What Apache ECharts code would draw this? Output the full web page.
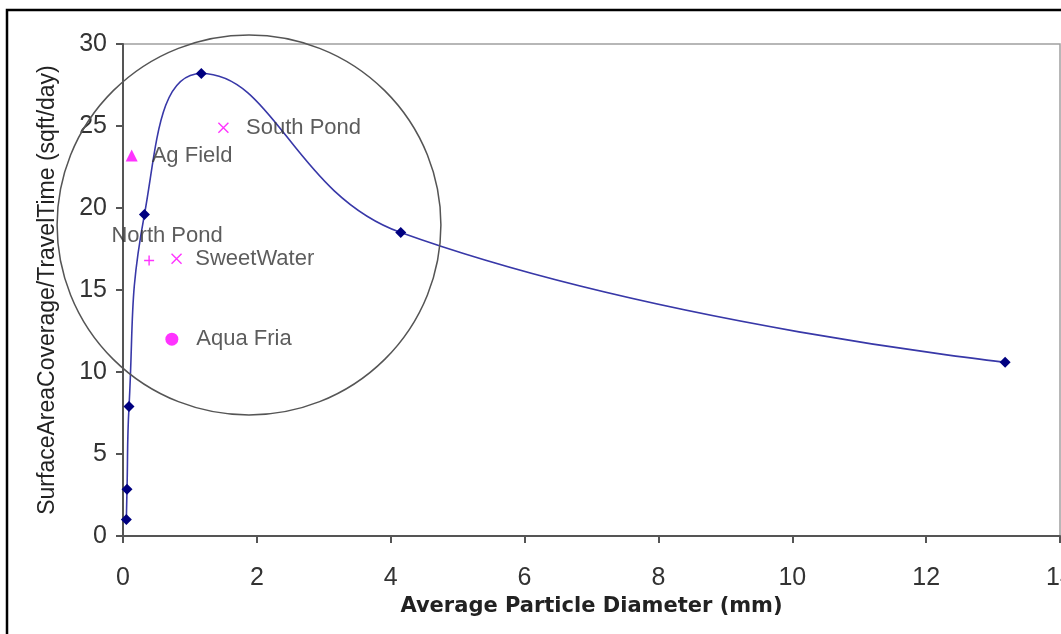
<!DOCTYPE html>
<html>
<head>
<meta charset="utf-8">
<script src="https://cdn.jsdelivr.net/npm/echarts@6/dist/echarts.min.js"></script>
<style>html,body{margin:0;padding:0;background:#fff;}#c{width:1061px;height:634px;}</style>
</head>
<body>
<div id="c"></div>
<script>
// Curve data (average particle diameter, mm vs coverage/travel time)
const curveX = [0.05, 0.06, 0.09, 0.32, 1.17, 4.15, 13.18];
const curveY = [1.0, 2.85, 7.9, 19.6, 28.2, 18.5, 10.6];
// Field samples
const sampleNames = ['Ag Field', 'South Pond', 'North Pond', 'SweetWater', 'Aqua Fria'];
const sampleX = [0.13, 1.5, 0.39, 0.8, 0.73];
const sampleY = [23.2, 24.9, 16.8, 16.9, 12.0];
const xTicks = [0, 2, 4, 6, 8, 10, 12, 14];
const yTicks = [0, 5, 10, 15, 20, 25, 30];

const MAG = '#ff00ff';
const FONT = 'Liberation Sans, Arial, sans-serif';
const symbols = [
  'triangle',
  'path://M0,0L10,10M10,0L0,10',
  'path://M5,0L5,10M0,5L10,5',
  'path://M0,0L10,10M10,0L0,10',
  'circle'
];
const symSizes = [12, 10, 10, 10, 13];
const labelCfg = [
  {position: 'right', distance: 14},
  {position: 'right', distance: 17},
  {position: 'top', offset: [18, -2], distance: 6},
  {position: 'right', distance: 13},
  {position: 'right', distance: 18}
];

const chart = echarts.init(document.getElementById('c'));
const series = [{
  type: 'line',
  data: curveX.map((x, i) => [x, curveY[i]]),
  smooth: 0.45,
  symbol: 'diamond',
  symbolSize: 11,
  lineStyle: {color: '#3838a8', width: 1.6},
  itemStyle: {color: '#000080'},
  z: 3
}];
sampleNames.forEach((n, i) => {
  const stroked = symbols[i].startsWith('path');
  series.push({
    type: 'scatter',
    name: n,
    data: [[sampleX[i], sampleY[i]]],
    symbol: symbols[i],
    symbolSize: symSizes[i],
    itemStyle: stroked ? {color: 'rgba(0,0,0,0)', borderColor: MAG, borderWidth: 1.4} : {color: MAG},
    label: Object.assign({
      show: true,
      formatter: n,
      color: '#333',
      fontFamily: FONT,
      fontSize: 22
    }, labelCfg[i]),
    z: 4
  });
});

chart.setOption({
  animation: false,
  backgroundColor: '#fff',
  grid: {left: 123, top: 44, width: 937, height: 492, outerBoundsMode: 'none', containLabel: false,
    show: true, borderColor: '#a0a0a0', borderWidth: 1.5, backgroundColor: 'transparent'},
  xAxis: {
    type: 'value', min: 0, max: 14, interval: 2,
    name: 'Average Particle Diameter (mm)', nameLocation: 'middle', nameGap: 58,
    nameTextStyle: {fontFamily: 'DejaVu Sans, sans-serif', fontWeight: 'bold', fontSize: 21, color: '#222'},
    axisLine: {lineStyle: {color: '#555', width: 2}},
    axisTick: {show: true, length: 7, lineStyle: {color: '#555', width: 2}},
    axisLabel: {fontFamily: FONT, fontSize: 25, color: '#333', margin: 30,
      formatter: v => xTicks.includes(v) ? String(v) : ''},
    splitLine: {show: false}
  },
  yAxis: {
    type: 'value', min: 0, max: 30, interval: 5,
    name: 'SurfaceAreaCoverage/TravelTime (sqft/day)', nameLocation: 'middle', nameGap: 64,
    nameTextStyle: {fontFamily: FONT, fontSize: 23, color: '#222'},
    axisLine: {show: true, lineStyle: {color: '#555', width: 2}},
    axisTick: {show: true, length: 7, lineStyle: {color: '#555', width: 2}},
    axisLabel: {fontFamily: FONT, fontSize: 25, color: '#333', margin: 16,
      formatter: v => yTicks.includes(v) ? String(v) : ''},
    splitLine: {show: false}
  },
  graphic: [
    {type: 'rect', shape: {x: 7, y: 10, width: 1200, height: 800}, style: {fill: 'none', stroke: '#000', lineWidth: 2.5}, silent: true, z: 10},
    {type: 'circle', shape: {cx: 0, cy: 0, r: 190}, x: 249, y: 225, scaleX: 1.01, scaleY: 1.0,
      style: {fill: 'none', stroke: '#555', lineWidth: 1.5}, silent: true, z: 10}
  ],
  series: series
});
</script>
</body>
</html>
